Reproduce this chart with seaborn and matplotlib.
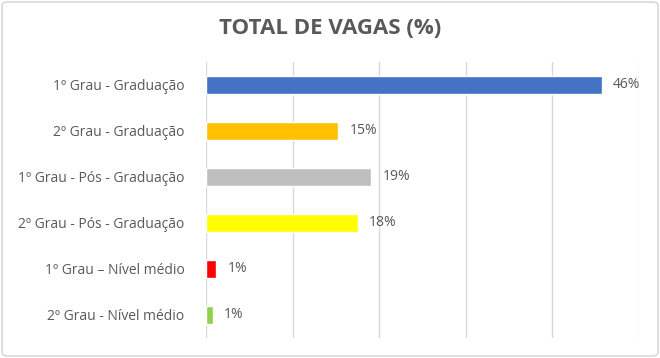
import matplotlib
matplotlib.use("Agg")
import matplotlib.pyplot as plt
import seaborn as sns
import pandas as pd
from matplotlib.patches import FancyBboxPatch

categories = ["1º Grau - Graduação", "2º Grau - Graduação", "1º Grau - Pós - Graduação",
              "2º Grau - Pós - Graduação", "1º Grau – Nível médio", "2º Grau - Nível médio"]
values = [0.457, 0.153, 0.191, 0.175, 0.012, 0.008]
labels = ["46%", "15%", "19%", "18%", "1%", "1%"]
colors = ["#4472C4", "#FFC000", "#BFBFBF", "#FFFF00", "#FF0000", "#92D050"]
title = "TOTAL DE VAGAS (%)"

sns.set_theme(style="white")
plt.rcParams["font.family"] = ["Open Sans", "DejaVu Sans"]

df = pd.DataFrame({"cat": categories, "val": values})
fig = plt.figure(figsize=(6.6, 3.58), dpi=100)
ax = fig.add_axes([206/660, 1-338/358, (639-206)/660, (338-62)/358])
sns.barplot(data=df, y="cat", x="val", hue="cat", palette=colors, legend=False,
            width=0.37, ax=ax, order=categories, hue_order=categories, saturation=1)
ax.set_xlim(0, 0.5)
ax.set_ylim(5.5, -0.5)
ax.set_xticks([0, 0.1, 0.2, 0.3, 0.4, 0.5])
ax.set_xticklabels([])
ax.tick_params(axis="x", length=0)
ax.tick_params(axis="y", length=0, pad=15.5, labelsize=10, labelcolor="#595959")
ax.xaxis.grid(True, color="#D9D9D9", linewidth=1)
ax.set_axisbelow(True)
for s in ax.spines.values():
    s.set_visible(False)
ax.set_xlabel("")
ax.set_ylabel("")
for i, (v, lab) in enumerate(zip(values, labels)):
    ax.annotate(lab, (v, i), xytext=(8, 0), textcoords="offset points",
                va="center", ha="left", fontsize=10, color="#595959")
fig.text(0.5, 1-28/358, title, ha="center", va="center", fontsize=16,
         fontweight="bold", color="#595959")
border = FancyBboxPatch((2/660, 2/358), 656/660, 354/358, boxstyle="round,pad=0,rounding_size=0.01",
                        transform=fig.transFigure, fill=False, edgecolor="#D9D9D9", linewidth=1.2)
fig.patches.append(border)
fig.savefig("out.png", dpi=100)
